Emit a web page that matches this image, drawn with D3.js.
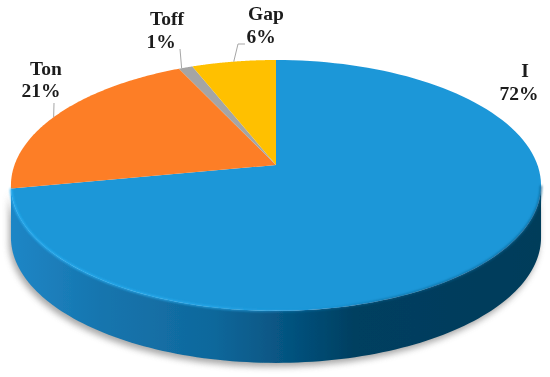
<!DOCTYPE html>
<html>
<head>
<meta charset="utf-8">
<script src="https://cdn.jsdelivr.net/npm/d3@7"></script>
<style>
  html, body { margin: 0; background: #fff; }
  svg { display: block; }
  text { font-family: "Liberation Serif", serif; font-weight: bold; font-size: 19.5px; fill: #1c1c1c; text-anchor: middle; }
</style>
</head>
<body>
<svg id="chart" width="550" height="377"></svg>
<script>
const categories = ["I", "Ton", "Toff", "Gap"];
const percents = [72, 21, 1, 6];
const colours = ["#1f97d8", "#fd7e25", "#a5a5a5", "#ffc000"];

// label placement, one row per category: [name x, name y, percent x, percent y]
const labelPlaces = [
  [525, 77, 519, 100],
  [46, 75, 41, 97],
  [167, 25, 161, 48],
  [266, 20, 261, 43]
];
// how far along its slice each leader leaves the rim, and where it goes from there
const leaderAlong = [null, 0.47, 0.2, 0.5];
const leaderEnds = [
  null,
  [[54, 103]],
  [[180, 49]],
  [[238, 44], [245, 44]]
];

// tilted disc: a circle seen in perspective, so the apex is above the ellipse centre
const APEX_X = 276, APEX_Y = 165;
const RX = 261.5, RY = 122.1, TILT = 0.163, DEPTH = 52;

function project(angle) {
  const w = 1 + TILT * Math.cos(angle);
  return [APEX_X + RX * Math.sin(angle) / w, APEX_Y - RY * Math.cos(angle) / w];
}

function rimPoints(a0, a1) {
  return d3.range(0, 121).map(i => project(a0 + (a1 - a0) * i / 120));
}

const line = d3.line();
const svg = d3.select("#chart");
const defs = svg.append("defs");

defs.append("filter").attr("id", "shadowBlur")
  .attr("x", "-10%").attr("y", "-10%").attr("width", "120%").attr("height", "130%")
  .append("feGaussianBlur").attr("stdDeviation", 3);
defs.append("filter").attr("id", "rimBlur")
  .attr("x", "-5%").attr("y", "-20%").attr("width", "110%").attr("height", "140%")
  .append("feGaussianBlur").attr("stdDeviation", 1.1);
defs.append("filter").attr("id", "soft")
  .attr("x", "-5%").attr("y", "-5%").attr("width", "110%").attr("height", "110%")
  .append("feGaussianBlur").attr("stdDeviation", 0.4);

const wallGrad = defs.append("linearGradient").attr("id", "wallGrad")
  .attr("gradientUnits", "userSpaceOnUse").attr("x1", 11).attr("x2", 541).attr("y1", 0).attr("y2", 0);
[[0, "#1f86c6"], [0.17, "#1675ae"], [0.38, "#0f689c"], [0.53, "#05527e"], [0.65, "#043f60"], [1, "#053c5a"]]
  .forEach(s => wallGrad.append("stop").attr("offset", s[0]).attr("stop-color", s[1]));

const rimGrad = defs.append("linearGradient").attr("id", "rimGrad")
  .attr("gradientUnits", "userSpaceOnUse").attr("x1", 11).attr("x2", 541).attr("y1", 0).attr("y2", 0);
[[0, "#2bb2f6", 0.9], [0.4, "#2aaef0", 0.8], [0.55, "#1f97d8", 0.3], [0.7, "#0c5f8c", 0.6], [1, "#0c5f8c", 0.8]]
  .forEach(s => rimGrad.append("stop").attr("offset", s[0]).attr("stop-color", s[1]).attr("stop-opacity", s[2]));

const arcs = d3.pie().sort(null).value(d => d)(percents);

// front edge of the disc, right-hand extreme round to the left-hand extreme
const frontFrom = Math.acos(-TILT);
const frontTo = 2 * Math.PI - frontFrom;
const front = rimPoints(frontFrom, frontTo);
const wall = front.concat(front.slice().reverse().map(p => [p[0], p[1] + DEPTH]));

svg.append("path")
  .attr("d", line(wall) + "Z")
  .attr("fill", "#8c8c8c")
  .attr("opacity", 0.75)
  .attr("transform", "translate(-2,4)")
  .attr("filter", "url(#shadowBlur)");

svg.append("path")
  .attr("d", line(wall) + "Z")
  .attr("fill", "url(#wallGrad)")
  .attr("filter", "url(#soft)");

const faces = svg.append("g").attr("filter", "url(#soft)");
faces.selectAll("path")
  .data(arcs)
  .join("path")
  .attr("d", d => line([[APEX_X, APEX_Y]].concat(rimPoints(d.startAngle, d.endAngle))) + "Z")
  .attr("fill", (d, i) => colours[i]);

svg.append("path")
  .attr("d", line(rimPoints(frontFrom, arcs[0].endAngle)))
  .attr("fill", "none")
  .attr("stroke", "url(#rimGrad)")
  .attr("stroke-width", 2.2)
  .attr("filter", "url(#rimBlur)");

svg.append("g").selectAll("path")
  .data(arcs.filter((d, i) => leaderEnds[i]))
  .join("path")
  .attr("d", d => {
    const a = d.startAngle + (d.endAngle - d.startAngle) * leaderAlong[d.index];
    return line([project(a)].concat(leaderEnds[d.index]));
  })
  .attr("fill", "none")
  .attr("stroke", "#a6a6a6")
  .attr("stroke-width", 1);

const labels = svg.append("g").attr("filter", "url(#soft)");
labels.selectAll("text.name")
  .data(categories)
  .join("text")
  .attr("class", "name")
  .attr("x", (d, i) => labelPlaces[i][0])
  .attr("y", (d, i) => labelPlaces[i][1])
  .text(d => d);
labels.selectAll("text.percent")
  .data(percents)
  .join("text")
  .attr("class", "percent")
  .attr("x", (d, i) => labelPlaces[i][2])
  .attr("y", (d, i) => labelPlaces[i][3])
  .text(d => d + "%");
</script>
</body>
</html>
